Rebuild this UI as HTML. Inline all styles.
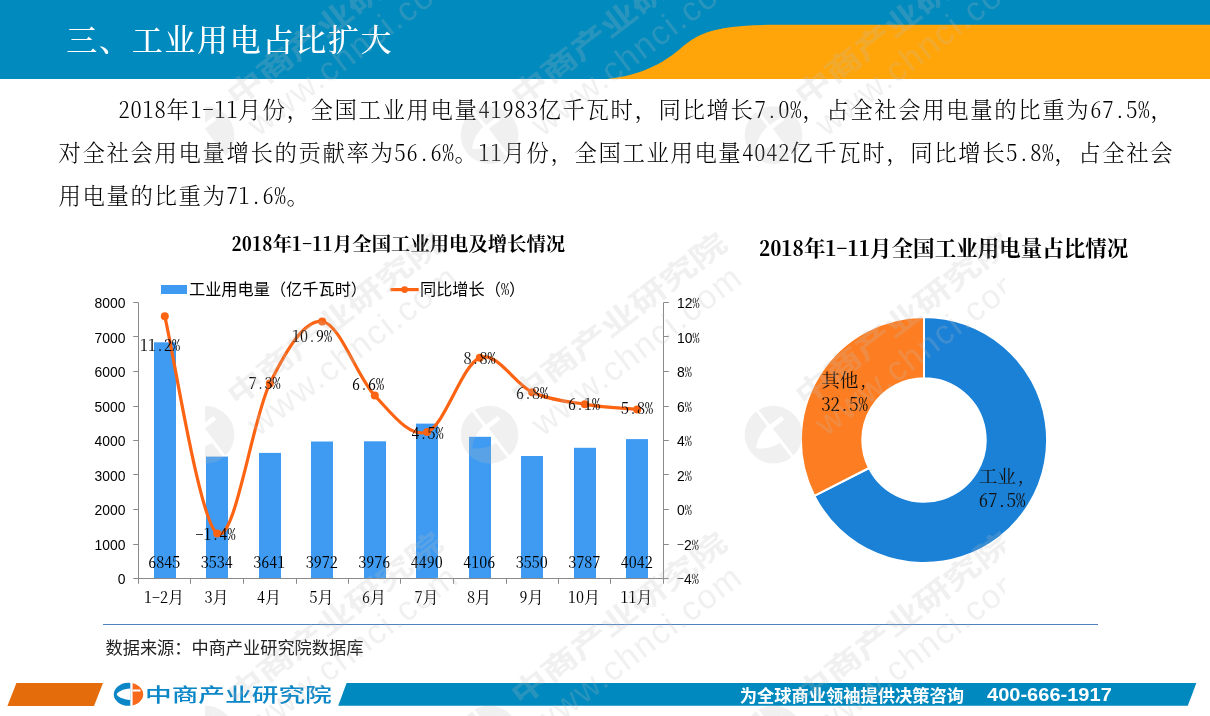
<!DOCTYPE html>
<html lang="zh-CN"><head><meta charset="utf-8"><title>三、工业用电占比扩大</title>
<style>
html,body{margin:0;padding:0}
body{width:1210px;height:716px;position:relative;overflow:hidden;background:#fff;font-family:"Liberation Serif","Noto Serif CJK SC",serif}
.hdr{position:absolute;left:0;top:0;width:1210px;height:78.6px;background:#018abd;overflow:hidden}
.hdr svg{position:absolute;left:0;top:0}
.ttl{position:absolute;left:66.3px;top:18.4px;margin:0;font:500 31px/46px "Liberation Serif","Noto Serif CJK SC",serif;color:#fff;white-space:nowrap;letter-spacing:1.7px}
.para{position:absolute;left:58.6px;top:87px;width:1140px;margin:0;font:300 22.4px/43px "Liberation Serif","Noto Serif CJK SC",serif;color:#000;letter-spacing:1.6px}
.para .ln{display:block;white-space:nowrap;height:43px}
.para .ind{padding-left:60px}
.n{font-family:"Noto Serif CJK SC","Liberation Serif",serif;font-feature-settings:"hwid";letter-spacing:0.8px}
svg.ch{position:absolute;left:0;top:0}
.ax{font:13.9px "Liberation Sans","Noto Sans CJK SC",sans-serif;fill:#000}
.pc{font-family:"Noto Serif CJK SC","Liberation Serif",serif;font-feature-settings:"hwid";font-size:14px}
.pc2{font-family:"Noto Serif CJK SC","Liberation Serif",serif;font-feature-settings:"hwid"}
.sv{font:16px "Noto Serif CJK SC","Liberation Serif",serif;font-feature-settings:"hwid";fill:#000}
.lg{font:16.2px "Liberation Sans","Noto Sans CJK SC",sans-serif;fill:#000}
.d1{letter-spacing:.55px}
.d2{letter-spacing:.4px}
.t1{font:bold 19.35px "Noto Serif CJK SC","Liberation Serif",serif;font-feature-settings:"hwid";fill:#000}
.t2{font:bold 21.52px "Noto Serif CJK SC","Liberation Serif",serif;font-feature-settings:"hwid";fill:#000}
.dl{font:18.67px "Noto Serif CJK SC","Liberation Serif",serif;font-feature-settings:"hwid";fill:#111}
.sep{position:absolute;left:103px;top:623.6px;width:995px;height:1.3px;background:#4f81bd}
.src{position:absolute;left:105.5px;top:634.7px;margin:0;font:17.2px/26px "Liberation Sans","Noto Sans CJK SC",sans-serif;color:#222;white-space:nowrap}
.ft svg{position:absolute;left:0;top:676px}
.brand{position:absolute;left:145px;top:683px;margin:0;font:500 19px/26px "Liberation Sans","Noto Sans CJK SC",sans-serif;color:#0b86c6;white-space:nowrap;transform:scaleX(1.404);transform-origin:0 50%}
.slog{position:absolute;left:739.7px;top:684.3px;margin:0;font:bold 17.27px/24px "Liberation Sans","Noto Sans CJK SC",sans-serif;color:#fff;white-space:nowrap}
.tel{position:absolute;left:986.7px;top:684.3px;margin:0;font:bold 17.5px/23px "Liberation Sans","Noto Sans CJK SC",sans-serif;color:#fff;white-space:nowrap;transform:scaleX(1.145);transform-origin:0 50%}
svg.wm{position:absolute;left:205px;top:0;pointer-events:none;overflow:hidden}
.w1{font:500 28px "Liberation Sans","Noto Sans CJK SC",sans-serif;fill:#bdbdbd;stroke:#bdbdbd;stroke-width:.7px}
.w2{font:34px "Liberation Sans","Noto Sans CJK SC",sans-serif;fill:#bdbdbd;letter-spacing:1.6px}
</style></head>
<body>
<div class="hdr">
<svg width="1210" height="79" viewBox="0 0 1210 79"><path d="M607 79C640 75.5 662 64 680 49C696 34.5 712 24.8 775 24.8H1210V79Z" fill="#ffa50a"/></svg>
<h1 class="ttl">三、工业用电占比扩大</h1>
</div>
<p class="para"><span class="ln ind"><span class="n">2018</span>年<span class="n">1-11</span>月份，全国工业用电量<span class="n">41983</span>亿千瓦时，同比增长<span class="n">7.0%</span>，占全社会用电量的比重为<span class="n">67.5%</span>，</span><span class="ln">对全社会用电量增长的贡献率为<span class="n">56.6%</span>。<span class="n">11</span>月份，全国工业用电量<span class="n">4042</span>亿千瓦时，同比增长<span class="n">5.8%</span>，占全社会</span><span class="ln">用电量的比重为<span class="n">71.6%</span>。</span></p>
<svg class="ch" width="1210" height="716" viewBox="0 0 1210 716">
<rect x="154" y="342.3" width="22" height="236.2" fill="#3f9bf2"/>
<rect x="206" y="456.6" width="22" height="121.9" fill="#3f9bf2"/>
<rect x="259" y="452.9" width="22" height="125.6" fill="#3f9bf2"/>
<rect x="311" y="441.5" width="22" height="137.0" fill="#3f9bf2"/>
<rect x="364" y="441.3" width="22" height="137.2" fill="#3f9bf2"/>
<rect x="416" y="423.6" width="22" height="154.9" fill="#3f9bf2"/>
<rect x="469" y="436.8" width="22" height="141.7" fill="#3f9bf2"/>
<rect x="521" y="456.0" width="22" height="122.5" fill="#3f9bf2"/>
<rect x="574" y="447.8" width="22" height="130.7" fill="#3f9bf2"/>
<rect x="626" y="439.1" width="22" height="139.4" fill="#3f9bf2"/>
<path d="M138.5 302.5V578.5H663.5V302.5" fill="none" stroke="#8a8a8a" stroke-width="1"/>
<path d="M133.2 578.5H138.5M663.5 578.5h5.3M133.2 544.5H138.5M663.5 544.5h5.3M133.2 509.5H138.5M663.5 509.5h5.3M133.2 474.5H138.5M663.5 474.5h5.3M133.2 440.5H138.5M663.5 440.5h5.3M133.2 406.5H138.5M663.5 406.5h5.3M133.2 371.5H138.5M663.5 371.5h5.3M133.2 336.5H138.5M663.5 336.5h5.3M133.2 302.5H138.5M663.5 302.5h5.3M138.5 578.5v5.3M190.5 578.5v5.3M243.5 578.5v5.3M296.5 578.5v5.3M348.5 578.5v5.3M400.5 578.5v5.3M453.5 578.5v5.3M506.5 578.5v5.3M558.5 578.5v5.3M610.5 578.5v5.3M663.5 578.5v5.3" fill="none" stroke="#8a8a8a" stroke-width="1"/>
<text x="125.4" y="584.4" text-anchor="end" class="ax">0</text>
<text x="677" y="584.4" class="ax"><tspan class="pc">-</tspan>4<tspan class="pc">%</tspan></text>
<text x="125.4" y="549.9" text-anchor="end" class="ax">1000</text>
<text x="677" y="549.9" class="ax"><tspan class="pc">-</tspan>2<tspan class="pc">%</tspan></text>
<text x="125.4" y="515.4" text-anchor="end" class="ax">2000</text>
<text x="677" y="515.4" class="ax">0<tspan class="pc">%</tspan></text>
<text x="125.4" y="480.9" text-anchor="end" class="ax">3000</text>
<text x="677" y="480.9" class="ax">2<tspan class="pc">%</tspan></text>
<text x="125.4" y="446.4" text-anchor="end" class="ax">4000</text>
<text x="677" y="446.4" class="ax">4<tspan class="pc">%</tspan></text>
<text x="125.4" y="411.9" text-anchor="end" class="ax">5000</text>
<text x="677" y="411.9" class="ax">6<tspan class="pc">%</tspan></text>
<text x="125.4" y="377.4" text-anchor="end" class="ax">6000</text>
<text x="677" y="377.4" class="ax">8<tspan class="pc">%</tspan></text>
<text x="125.4" y="342.9" text-anchor="end" class="ax">7000</text>
<text x="677" y="342.9" class="ax">10<tspan class="pc">%</tspan></text>
<text x="125.4" y="308.4" text-anchor="end" class="ax">8000</text>
<text x="677" y="308.4" class="ax">12<tspan class="pc">%</tspan></text>
<text x="164.1" y="602.6" text-anchor="middle" class="sv">1-2月</text>
<text x="216.6" y="602.6" text-anchor="middle" class="sv">3月</text>
<text x="269.1" y="602.6" text-anchor="middle" class="sv">4月</text>
<text x="321.6" y="602.6" text-anchor="middle" class="sv">5月</text>
<text x="374.1" y="602.6" text-anchor="middle" class="sv">6月</text>
<text x="426.6" y="602.6" text-anchor="middle" class="sv">7月</text>
<text x="479.1" y="602.6" text-anchor="middle" class="sv">8月</text>
<text x="531.5" y="602.6" text-anchor="middle" class="sv">9月</text>
<text x="584.0" y="602.6" text-anchor="middle" class="sv">10月</text>
<text x="636.5" y="602.6" text-anchor="middle" class="sv">11月</text>
<path d="M164.8 316.3C173.5 352.5 199.8 522.4 217.2 533.6C234.8 544.9 252.2 418.9 269.8 383.6C287.2 348.2 304.8 319.5 322.2 321.5C339.8 323.5 357.2 377.2 374.8 395.6C392.2 414.0 409.8 438.2 427.2 431.9C444.8 425.6 462.2 364.3 479.8 357.7C497.2 351.1 514.8 384.4 532.2 392.2C549.8 400.0 567.2 401.4 584.8 404.3C602.2 407.1 628.5 408.6 637.2 409.4" fill="none" stroke="#fc6312" stroke-width="3.2" stroke-linecap="round"/>
<circle cx="164.8" cy="316.3" r="4" fill="#fc6312"/>
<circle cx="217.2" cy="533.6" r="4" fill="#fc6312"/>
<circle cx="269.8" cy="383.6" r="4" fill="#fc6312"/>
<circle cx="322.2" cy="321.5" r="4" fill="#fc6312"/>
<circle cx="374.8" cy="395.6" r="4" fill="#fc6312"/>
<circle cx="427.2" cy="431.9" r="4" fill="#fc6312"/>
<circle cx="479.8" cy="357.7" r="4" fill="#fc6312"/>
<circle cx="532.2" cy="392.2" r="4" fill="#fc6312"/>
<circle cx="584.8" cy="404.3" r="4" fill="#fc6312"/>
<circle cx="637.2" cy="409.4" r="4" fill="#fc6312"/>
<text x="164.2" y="567.7" text-anchor="middle" class="sv">6845</text>
<text x="216.8" y="567.7" text-anchor="middle" class="sv">3534</text>
<text x="269.2" y="567.7" text-anchor="middle" class="sv">3641</text>
<text x="321.8" y="567.7" text-anchor="middle" class="sv">3972</text>
<text x="374.2" y="567.7" text-anchor="middle" class="sv">3976</text>
<text x="426.8" y="567.7" text-anchor="middle" class="sv">4490</text>
<text x="479.2" y="567.7" text-anchor="middle" class="sv">4106</text>
<text x="531.8" y="567.7" text-anchor="middle" class="sv">3550</text>
<text x="584.2" y="567.7" text-anchor="middle" class="sv">3787</text>
<text x="636.8" y="567.7" text-anchor="middle" class="sv">4042</text>
<text x="160" y="350.5" text-anchor="middle" class="sv">11.2%</text>
<text x="215.5" y="539.5" text-anchor="middle" class="sv">-1.4%</text>
<text x="264.5" y="389" text-anchor="middle" class="sv">7.3%</text>
<text x="312" y="342" text-anchor="middle" class="sv">10.9%</text>
<text x="368" y="390" text-anchor="middle" class="sv">6.6%</text>
<text x="427.5" y="438.5" text-anchor="middle" class="sv">4.5%</text>
<text x="479.5" y="364" text-anchor="middle" class="sv">8.8%</text>
<text x="532" y="398.5" text-anchor="middle" class="sv">6.8%</text>
<text x="584" y="409.5" text-anchor="middle" class="sv">6.1%</text>
<text x="637" y="414" text-anchor="middle" class="sv">5.8%</text>
<rect x="161" y="285" width="26" height="9" fill="#3f9bf2"/>
<text x="189" y="295" class="lg">工业用电量（亿千瓦时）</text>
<path d="M390.5 289.6H418.7" stroke="#fc6312" stroke-width="3.2"/><circle cx="404.6" cy="289.6" r="3.4" fill="#fc6312"/>
<text x="420" y="295" class="lg">同比增长（<tspan class="pc2">%</tspan>）</text>
<text x="398.5" y="251" text-anchor="middle" class="t1"><tspan class="d1">2018</tspan>年<tspan class="d1">1-11</tspan>月全国工业用电及增长情况</text>
<text x="943.8" y="255.5" text-anchor="middle" class="t2"><tspan class="d2">2018</tspan>年<tspan class="d2">1-11</tspan>月全国工业用电量占比情况</text>
<path d="M924.00 316.90A123.1 123.1 0 1 1 814.32 495.89L869.02 468.01A61.7 61.7 0 1 0 924.00 378.30Z" fill="#1b81d6" stroke="#fff" stroke-width="2" stroke-linejoin="round"/>
<path d="M814.32 495.89A123.1 123.1 0 0 1 924.00 316.90L924.00 378.30A61.7 61.7 0 0 0 869.02 468.01Z" fill="#fd7e22" stroke="#fff" stroke-width="2" stroke-linejoin="round"/>
<text class="dl"><tspan x="844.5" y="386.9" text-anchor="middle">其他,</tspan><tspan x="844.5" y="411" text-anchor="middle">32.5%</tspan></text>
<text class="dl"><tspan x="1002" y="483.3" text-anchor="middle">工业,</tspan><tspan x="1002" y="507" text-anchor="middle">67.5%</tspan></text>
</svg>
<div class="sep"></div>
<p class="src">数据来源：中商产业研究院数据库</p>
<div class="ft">
<svg width="1210" height="40" viewBox="0 676 1210 40">
<path d="M16.4 683H103L94 706H7.4Z" fill="#e46c0a"/>
<path d="M346.6 683H1196.4L1187.8 705.7H338.2Z" fill="#0089be"/>
<g id="logo">
<clipPath id="lc"><ellipse cx="128.5" cy="694.3" rx="14.7" ry="11.5"/></clipPath>
<g clip-path="url(#lc)">
<rect x="113" y="682" width="17.3" height="25" fill="#0b86c6"/>
<rect x="132.6" y="682" width="12" height="25" fill="#f8691c"/>
<path d="M130.4 688.6C123 689 117.6 692 116.6 694.3C117.6 696.8 123 699.6 130.4 699.9Z" fill="#fff"/>
<path d="M132.6 689.6H140.5V691.4H132.6Z" fill="#fff"/>
</g>
</g>
</svg>
<p class="brand">中商产业研究院</p>
<p class="slog">为全球商业领袖提供决策咨询</p>
<p class="tel">400-666-1917</p>
</div>
<svg class="wm" width="800" height="716" viewBox="205 0 800 716" opacity="0.21">
<defs><g id="wmlogo"><path fill-rule="evenodd" d="M0.5 -29A29 29 0 0 0 0.5 29ZM0.5 -10.5C-9 -9.5 -18 -4.5 -21.5 0C-18 4.5 -9 9.5 0.5 10.5Z" fill="#bdbdbd"/><path fill-rule="evenodd" d="M3.5 -28.8A29 29 0 0 1 3.5 28.8ZM3.5 -10H18V-5.5H3.5Z" fill="#bdbdbd"/></g></defs>
<g transform="translate(205.3 135.3) rotate(-37.5)"><use href="#wmlogo"/><text transform="translate(42 -3) scale(1.34 1)" class="w1">中商产业研究院</text><text x="41" y="34" class="w2">www.chnci.com</text></g>
<g transform="translate(489.3 135.3) rotate(-37.5)"><use href="#wmlogo"/><text transform="translate(42 -3) scale(1.34 1)" class="w1">中商产业研究院</text><text x="41" y="34" class="w2">www.chnci.com</text></g>
<g transform="translate(773.3 135.3) rotate(-37.5)"><use href="#wmlogo"/><text transform="translate(42 -3) scale(1.34 1)" class="w1">中商产业研究院</text><text x="41" y="34" class="w2">www.chnci.com</text></g>
<g transform="translate(205.3 434.9) rotate(-37.5)"><use href="#wmlogo"/><text transform="translate(42 -3) scale(1.34 1)" class="w1">中商产业研究院</text><text x="41" y="34" class="w2">www.chnci.com</text></g>
<g transform="translate(489.3 434.9) rotate(-37.5)"><use href="#wmlogo"/><text transform="translate(42 -3) scale(1.34 1)" class="w1">中商产业研究院</text><text x="41" y="34" class="w2">www.chnci.com</text></g>
<g transform="translate(773.3 434.9) rotate(-37.5)"><use href="#wmlogo"/><text transform="translate(42 -3) scale(1.34 1)" class="w1">中商产业研究院</text><text x="41" y="34" class="w2">www.chnci.com</text></g>
<g transform="translate(205.3 734.5) rotate(-37.5)"><use href="#wmlogo"/><text transform="translate(42 -3) scale(1.34 1)" class="w1">中商产业研究院</text><text x="41" y="34" class="w2">www.chnci.com</text></g>
<g transform="translate(489.3 734.5) rotate(-37.5)"><use href="#wmlogo"/><text transform="translate(42 -3) scale(1.34 1)" class="w1">中商产业研究院</text><text x="41" y="34" class="w2">www.chnci.com</text></g>
<g transform="translate(773.3 734.5) rotate(-37.5)"><use href="#wmlogo"/><text transform="translate(42 -3) scale(1.34 1)" class="w1">中商产业研究院</text><text x="41" y="34" class="w2">www.chnci.com</text></g>
</svg>
</body></html>
